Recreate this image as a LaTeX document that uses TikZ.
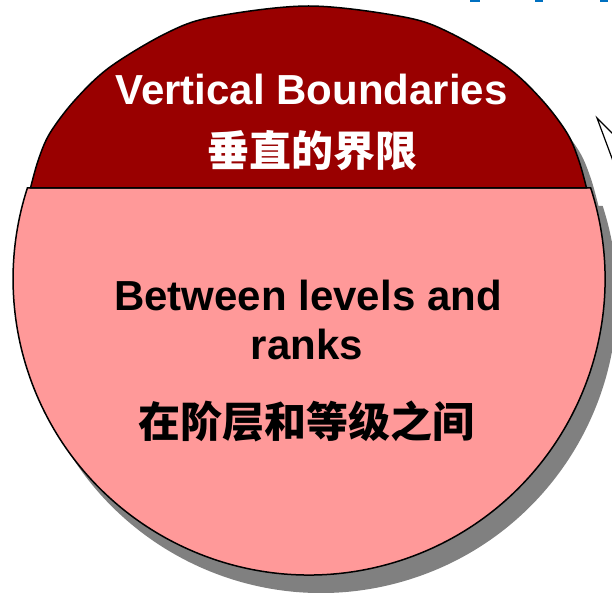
\documentclass[tikz,border=0pt]{standalone}
\usepackage{fontspec}
\setmainfont{Liberation Sans}
\newfontfamily\cjk{Noto Sans CJK SC}
\definecolor{capred}{HTML}{990000}
\definecolor{bodypink}{HTML}{FF9999}
\definecolor{shadowgray}{HTML}{808080}
\definecolor{markblue}{HTML}{0070C0}
\tikzset{
  outline/.style={draw=black, line width=1.5pt},
  captext/.style={text=white, font=\fontsize{42}{50}\selectfont\bfseries, inner sep=0pt, anchor=base},
  captextcjk/.style={text=white, font=\cjk\fontsize{42}{50}\selectfont\bfseries, inner sep=0pt, anchor=base},
  bodytext/.style={text=black, font=\fontsize{42}{50}\selectfont\bfseries, inner sep=0pt, anchor=base},
  bodytextcjk/.style={text=black, font=\cjk\fontsize{42}{50}\selectfont\bfseries, inner sep=0pt, anchor=base},
}
\def\mycappath{plot[smooth, tension=0.55] coordinates {(30.5,188) (38.3,160) (50,133) (75,100) (110,67) (166.7,33) (213,17) (308.5,6) (404,17) (450.3,33) (507,67) (542,100) (567,133) (578.7,160) (586.5,188)} -- cycle}
\def\mybodypath{(590.7,188) arc[start angle=-17.9, end angle=197.9, radius=296] -- cycle}
\begin{document}
\begin{tikzpicture}[x=1pt,y=-1pt]
\useasboundingbox (0,0) rectangle (612,593);
\clip (0,0) rectangle (612,593);
% shadow
\begin{scope}[shift={(12,18)}]
  \fill[shadowgray] \mycappath;
  \fill[shadowgray] \mybodypath;
\end{scope}
% callout pointer
\draw[fill=white, line width=1.2pt] (615,136) -- (597,118) -- (613,161);
% pink body
\draw[outline, fill=bodypink] \mybodypath;
% cap
\draw[outline, fill=capred] \mycappath;
% blue marks
\fill[markblue] (470,0) rectangle (480,2);
\fill[markblue] (535,0) rectangle (543,2);
\fill[markblue] (600,0) rectangle (608,2);
% texts
\node[captext] (t1) at (311.5,105) {Vertical Boundaries};
\node[captextcjk] (t2) at (312,167) {垂直的界限};
\node[bodytext] (b1) at (308,310) {Between levels and};
\node[bodytext] (b2) at (307,359) {ranks};
\node[bodytextcjk] (b3) at (306,437) {在阶层和等级之间};
\end{tikzpicture}
\end{document}
